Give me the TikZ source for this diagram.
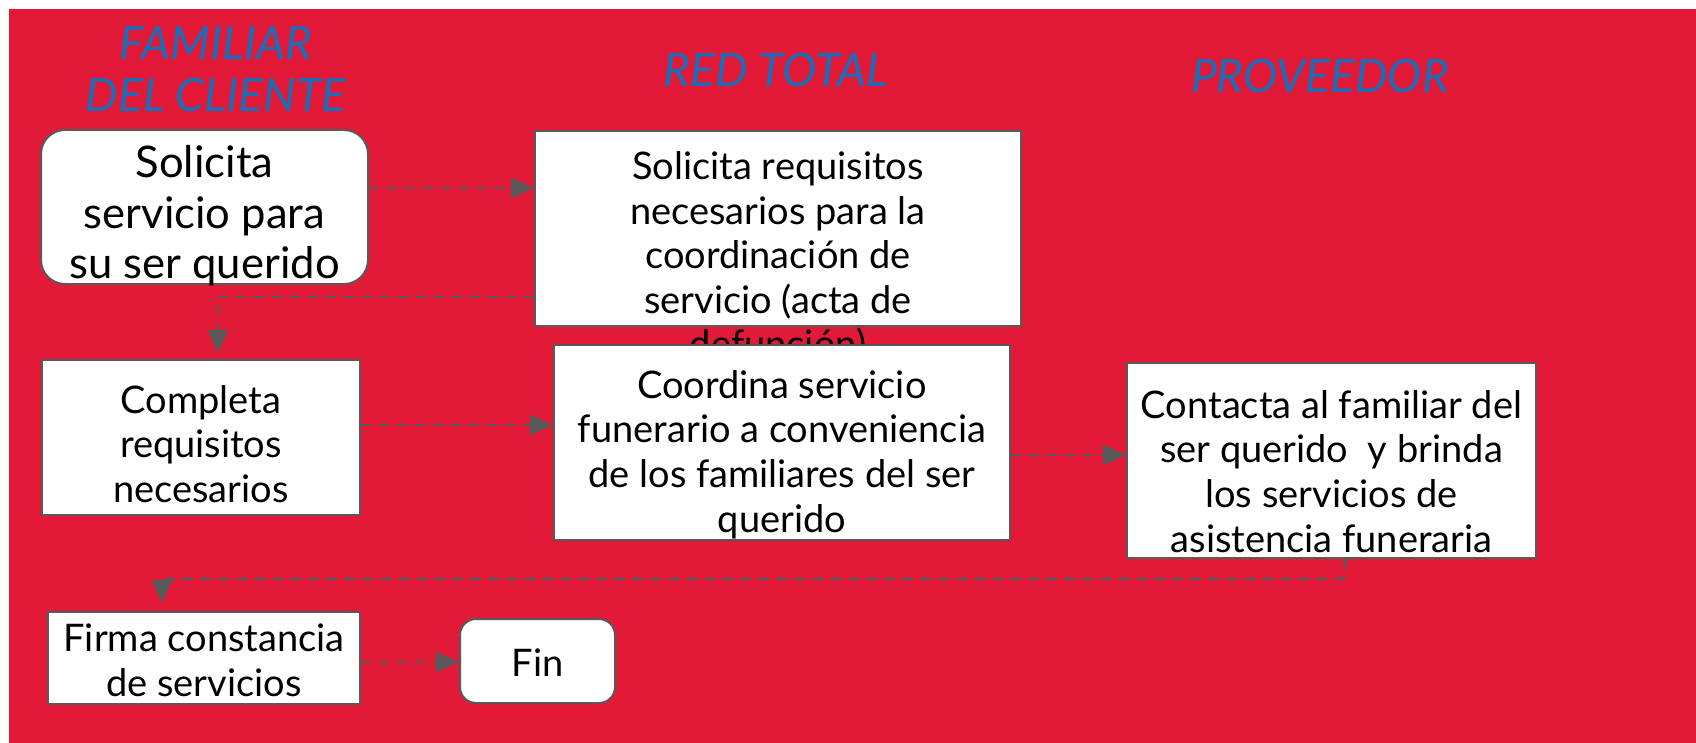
\documentclass[tikz,border=0pt]{standalone}
\usepackage{fontspec}
\setmainfont{Lato}
\usetikzlibrary{arrows.meta, positioning}
\definecolor{fondo}{RGB}{227,25,56}
\definecolor{carril}{RGB}{25,110,185}
\definecolor{linea}{RGB}{89,89,89}

\begin{document}
\begin{tikzpicture}[x=0.5pt, y=-0.5pt,
      caja/.style = {draw=linea, line width=1pt, fill=white, inner sep=0pt},
      cajar/.style = {caja, rounded corners=12pt},
      texto/.style = {align=center, inner sep=0pt, font=\fontsize{19}{22.3}\selectfont},
      carrilT/.style = {text=carril, align=center,
      font=\fontsize{23}{26}\selectfont\itshape},
      flujo/.style = {draw=linea, line width=1.4pt, dash pattern=on 5pt off 4pt,
      -{Triangle[length=11.5pt, width=10pt]}} ]

\useasboundingbox (0,0) rectangle (1696,743);
\fill[fondo] (9,9) rectangle (1696,743);

% carriles
\node (famT) [carrilT] at (216,69) {FAMILIAR\\DEL CLIENTE};
\node (redT) [carrilT] at (776,70) {RED TOTAL};
\node (proT) [carrilT] at (1320,76) {PROVEEDOR};

% pasos
\node (sol) [cajar, minimum width=163.5pt, minimum height=77pt] at (204.5,207) {};
\node (solT) [texto, font=\fontsize{21.8}{25.2}\selectfont]
     at ([yshift=-4.5pt]sol.center) {Solicita\\servicio para\\su ser querido};
\node (req) [caja, minimum width=243pt, minimum height=97.5pt] at (778,228.5) {};
\node (reqT) [texto] at ([yshift=-14.5pt]req.center)
     {Solicita requisitos\\necesarios para la\\coordinaci\'on de\\servicio (acta de\\defunci\'on)};
\node (com) [caja, minimum width=159pt, minimum height=77.5pt] at (201,437.5) {};
\node (comT) [texto] at ([yshift=-3.25pt]com.center)
     {Completa\\requisitos\\necesarios};
\node (coo) [caja, minimum width=228pt, minimum height=97.5pt] at (782,442.5) {};
\node (cooT) [texto] at ([yshift=-6pt]coo.center)
     {Coordina servicio\\funerario a conveniencia\\de los familiares del ser\\querido};
\node (con) [caja, minimum width=204.5pt, minimum height=97.5pt] at (1331.5,460.5) {};
\node (conT) [texto] at ([yshift=-5.4pt]con.center)
     {Contacta al familiar del\\ser querido\ \ y brinda\\los servicios de\\asistencia funeraria};
\node (fir) [caja, minimum width=156pt, minimum height=46pt] at (204,658) {};
\node (firT) [texto] at ([yshift=-1pt]fir.center) {Firma constancia\\de servicios};
\node (fin) [cajar, rounded corners=8pt, minimum width=77.5pt, minimum height=42pt,
     right=49pt of fir, yshift=-1.5pt] {};
\node (finT) [texto] at ([yshift=-1pt]fin.center) {Fin};

% codos
\coordinate (c1) at (218,297);
\coordinate (c2) at (1345,579);
\coordinate (c3) at (162,579);

% flechas
\draw[flujo] ([yshift=9.5pt]sol.east) -- ([yshift=9.5pt]sol.east -| req.west);
\draw[flujo, shorten >=3pt] (req.west |- c1) -- (c1) -- (c1 |- com.north);
\draw[flujo] ([yshift=6.25pt]com.east) -- ([yshift=6.25pt]com.east -| coo.west);
\draw[flujo] ([yshift=-6.25pt]coo.east) -- ([yshift=-6.25pt]coo.east -| con.west);
\draw[flujo, shorten >=4pt, rounded corners=2pt] (c2 |- con.south) -- (c2) -- (c3) -- (c3 |- fir.north);
\draw[flujo] ([yshift=-2pt]fir.east) -- ([yshift=-2pt]fir.east -| fin.west);
\end{tikzpicture}
\end{document}
